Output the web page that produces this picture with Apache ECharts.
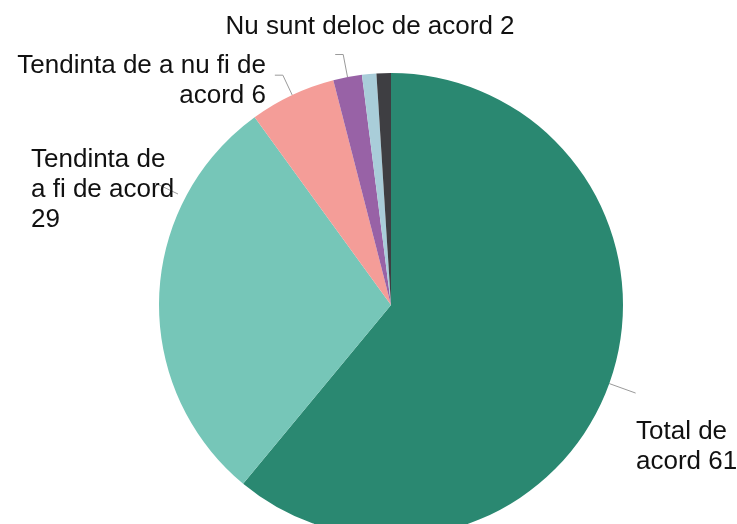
<!DOCTYPE html>
<html>
<head>
<meta charset="utf-8">
<script src="https://cdn.jsdelivr.net/npm/echarts@6/dist/echarts.min.js"></script>
<style>
  html, body { margin: 0; padding: 0; background: #fff; }
  #chart { width: 737px; height: 524px; }
</style>
</head>
<body>
<div id="chart"></div>
<script>
// slices, clockwise from 12 o'clock
const categories = ['Total de acord', 'Tendinta de a fi de acord', 'Tendinta de a nu fi de acord',
  'Nu sunt deloc de acord', 'Nu stiu', 'Nu raspund'];
const values = [61, 29, 6, 2, 1, 1];
const labelText = ['Total de\nacord', 'Tendinta de\na fi de acord\n', 'Tendinta de a nu fi de\nacord',
  'Nu sunt deloc de acord', '', ''];
const colors = ['#2a8871', '#76c6b8', '#f49d98', '#9862a6', '#a9cdd9', '#3e3e42'];

// where each label sits (x, y, align) - null = no label
const labelPos = [
  { x: 636, y: 447, align: 'left' },
  { x: 31, y: 190, align: 'left' },
  { x: 266, y: 81, align: 'right' },
  { x: 370, y: 27, align: 'center' },
  null,
  null
];
const lineLen = [[28, 0], [20, 0], [22, 8], [23, 8], [0, 0], [0, 0]];

const chart = echarts.init(document.getElementById('chart'));

const pieData = values.map((v, i) => ({
  name: categories[i],
  value: v,
  itemStyle: { color: colors[i] },
  label: { show: labelPos[i] != null },
  labelLine: { show: labelPos[i] != null, length: lineLen[i][0], length2: lineLen[i][1] }
}));

chart.setOption({
  backgroundColor: '#fff',
  animation: false,
  series: [{
    type: 'pie',
    center: [391, 305],
    radius: 232,
    startAngle: 90,
    clockwise: true,
    avoidLabelOverlap: false,
    data: pieData,
    itemStyle: { borderWidth: 0 },
    label: {
      position: 'outside',
      fontFamily: '"Liberation Sans", Arial, sans-serif',
      fontSize: 26,
      lineHeight: 30,
      color: '#111',
      formatter: p => {
        const t = labelText[p.dataIndex];
        return t.endsWith('\n') ? t + p.value : t + ' ' + p.value;
      }
    },
    labelLine: {
      smooth: false,
      lineStyle: { color: '#9a9a9a', width: 1 }
    },
    labelLayout: params => {
      const pos = labelPos[params.dataIndex];
      if (!pos) return {};
      const out = {
        x: pos.x,
        y: pos.y,
        align: pos.align,
        verticalAlign: 'middle',
        labelLinePoints: params.labelLinePoints
      };
      // this guide in the source leans up toward the text, not at mid-slice
      if (params.dataIndex === 1) out.labelLinePoints = [[178, 194], [155, 183]];
      return out;
    }
  }]
});
</script>
</body>
</html>
